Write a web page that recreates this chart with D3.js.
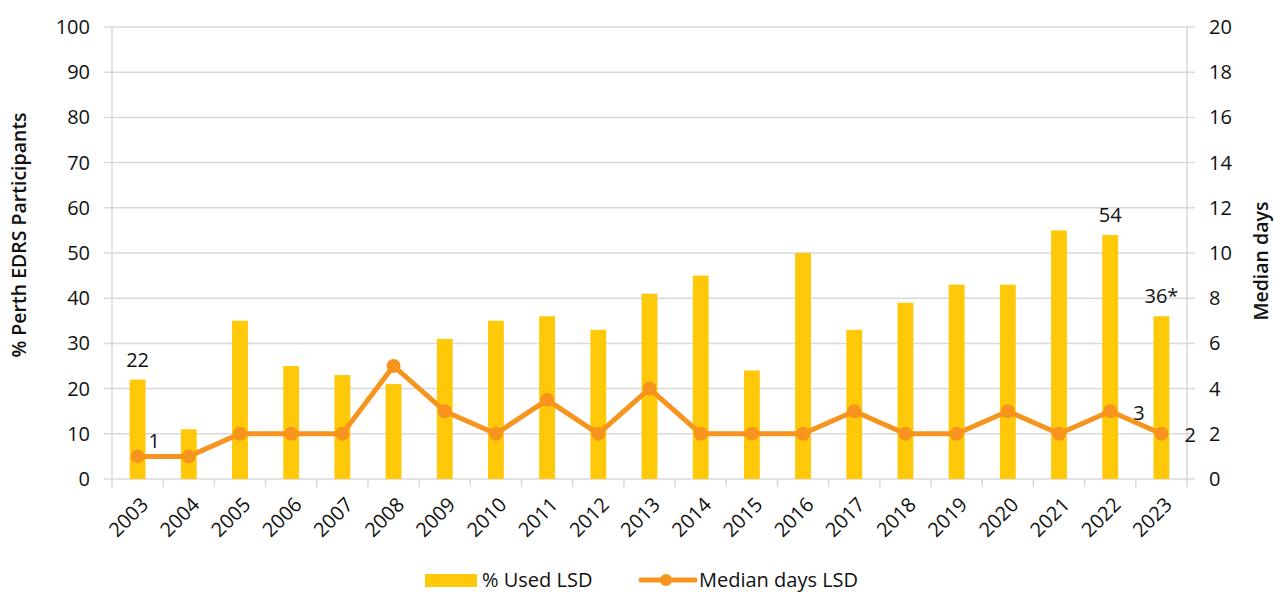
<!DOCTYPE html>
<html>
<head>
<meta charset="utf-8">
<script src="https://cdn.jsdelivr.net/npm/d3@7"></script>
<style>
  body { margin: 0; background: #fff; }
  svg { display: block; font-family: "Open Sans", "Noto Sans", sans-serif; }
</style>
</head>
<body>
<svg id="chart" width="1274" height="592"></svg>
<script>
// Years on the category axis
const years = ["2003","2004","2005","2006","2007","2008","2009","2010","2011","2012",
               "2013","2014","2015","2016","2017","2018","2019","2020","2021","2022","2023"];
// % of Perth EDRS participants who used LSD
const usedLSD = [22, 11, 35, 25, 23, 21, 31, 35, 36, 33, 41, 45, 24, 50, 33, 39, 43, 43, 55, 54, 36];
// Median days of LSD use
const medianDays = [1, 1, 2, 2, 2, 5, 3, 2, 3.5, 2, 4, 2, 2, 2, 3, 2, 2, 3, 2, 3, 2];
// Axis tick values
const leftTicks = [0, 10, 20, 30, 40, 50, 60, 70, 80, 90, 100];
const rightTicks = [0, 2, 4, 6, 8, 10, 12, 14, 16, 18, 20];
// Data labels shown on the chart
const barLabels = [{i: 0, text: "22"}, {i: 19, text: "54"}, {i: 20, text: "36*"}];
const lineLabels = [{i: 0, text: "1", dx: 11, dy: -15}, {i: 19, text: "3", dx: 23, dy: 2}, {i: 20, text: "2", dx: 23, dy: 1}];

const barColor = "#FFC90A";
const lineColor = "#F7941D";
const gridColor = "#D9D9D9";
const textColor = "#111";
const fs = 20;

const svg = d3.select("#chart");
const m = {left: 112, right: 1187, top: 27, bottom: 479};

const x = d3.scaleBand().domain(years).range([m.left, m.right]);
const yL = d3.scaleLinear().domain([0, 100]).range([m.bottom, m.top]);
const yR = d3.scaleLinear().domain([0, 20]).range([m.bottom, m.top]);
const cx = i => x(years[i]) + x.bandwidth() / 2;

// Horizontal gridlines, extended slightly past both axes
svg.append("g").selectAll("line").data(leftTicks).join("line")
  .attr("x1", m.left - 8).attr("x2", m.right + 8)
  .attr("y1", d => yL(d)).attr("y2", d => yL(d))
  .attr("stroke", gridColor).attr("stroke-width", 1.5);

// Vertical axis lines
[m.left, m.right].forEach(xp => {
  svg.append("line").attr("x1", xp).attr("x2", xp)
    .attr("y1", m.top).attr("y2", m.bottom + 8)
    .attr("stroke", gridColor).attr("stroke-width", 1.5);
});

// Category tick marks between years
svg.append("g").selectAll("line").data(years.slice(1)).join("line")
  .attr("x1", d => x(d)).attr("x2", d => x(d))
  .attr("y1", m.bottom).attr("y2", m.bottom + 8)
  .attr("stroke", gridColor).attr("stroke-width", 1.5);

// Left axis labels
const leftAxis = d3.axisLeft(yL).tickValues(leftTicks).tickSize(0).tickPadding(0);
svg.append("g").attr("transform", `translate(${m.left - 22},0)`).call(leftAxis)
  .call(g => g.select(".domain").remove())
  .selectAll("text").attr("font-size", fs).attr("fill", textColor)
  .attr("font-family", "'Open Sans', 'Noto Sans', sans-serif");

// Right axis labels
const rightAxis = d3.axisRight(yR).tickValues(rightTicks).tickSize(0).tickPadding(0);
svg.append("g").attr("transform", `translate(${m.right + 22},0)`).call(rightAxis)
  .call(g => g.select(".domain").remove())
  .selectAll("text").attr("font-size", fs).attr("fill", textColor)
  .attr("font-family", "'Open Sans', 'Noto Sans', sans-serif");

// Year labels, rotated
svg.append("g").selectAll("text").data(years).join("text")
  .attr("transform", d => `translate(${x(d) + x.bandwidth() / 2 + 7},${m.bottom + 22}) rotate(-45)`)
  .attr("text-anchor", "end").attr("dy", "0.35em")
  .attr("font-size", fs).attr("fill", textColor)
  .text(d => d);

// Axis titles
svg.append("text")
  .attr("transform", `translate(26,235) rotate(-90)`)
  .attr("text-anchor", "middle").attr("font-size", 19.5).attr("font-weight", 600)
  .attr("fill", textColor).text("% Perth EDRS Participants");
svg.append("text")
  .attr("transform", `translate(1268,261) rotate(-90)`)
  .attr("text-anchor", "middle").attr("font-size", 19.5).attr("font-weight", 600)
  .attr("fill", textColor).text("Median days");

// Bars
const barW = x.bandwidth() * 0.31;
svg.append("g").selectAll("rect").data(usedLSD).join("rect")
  .attr("x", (d, i) => cx(i) - barW / 2)
  .attr("width", barW)
  .attr("y", d => yL(d))
  .attr("height", d => yL(0) - yL(d))
  .attr("fill", barColor);

// Line of median days
const line = d3.line()
  .x((d, i) => cx(i))
  .y(d => yR(d));
svg.append("path").datum(medianDays)
  .attr("d", line).attr("fill", "none")
  .attr("stroke", lineColor).attr("stroke-width", 5).attr("stroke-linejoin", "round");
svg.append("g").selectAll("circle").data(medianDays).join("circle")
  .attr("cx", (d, i) => cx(i))
  .attr("cy", d => yR(d)).attr("r", 7).attr("fill", lineColor);

// Bar value labels
svg.append("g").selectAll("text").data(barLabels).join("text")
  .attr("x", d => cx(d.i))
  .attr("y", d => yL(usedLSD[d.i]) - 13)
  .attr("text-anchor", "middle").attr("font-size", fs).attr("fill", textColor)
  .text(d => d.text);

// Line value labels
svg.append("g").selectAll("text").data(lineLabels).join("text")
  .attr("x", d => cx(d.i) + d.dx)
  .attr("y", d => yR(medianDays[d.i]) + d.dy)
  .attr("dy", "0.35em")
  .attr("text-anchor", "start").attr("font-size", fs).attr("fill", textColor)
  .text(d => d.text);

// Legend
const lg = svg.append("g");
lg.append("rect").attr("x", 425).attr("y", 574).attr("width", 52).attr("height", 13).attr("fill", barColor);
lg.append("text").attr("x", 482).attr("y", 580).attr("dy", "0.35em")
  .attr("font-size", fs).attr("fill", textColor).text("% Used LSD");
lg.append("line").attr("x1", 641).attr("x2", 695).attr("y1", 580).attr("y2", 580)
  .attr("stroke", lineColor).attr("stroke-width", 5).attr("stroke-linecap", "round");
lg.append("circle").attr("cx", 666).attr("cy", 580).attr("r", 6).attr("fill", lineColor);
lg.append("text").attr("x", 699).attr("y", 580).attr("dy", "0.35em")
  .attr("font-size", fs).attr("fill", textColor).text("Median days LSD");
</script>
</body>
</html>
